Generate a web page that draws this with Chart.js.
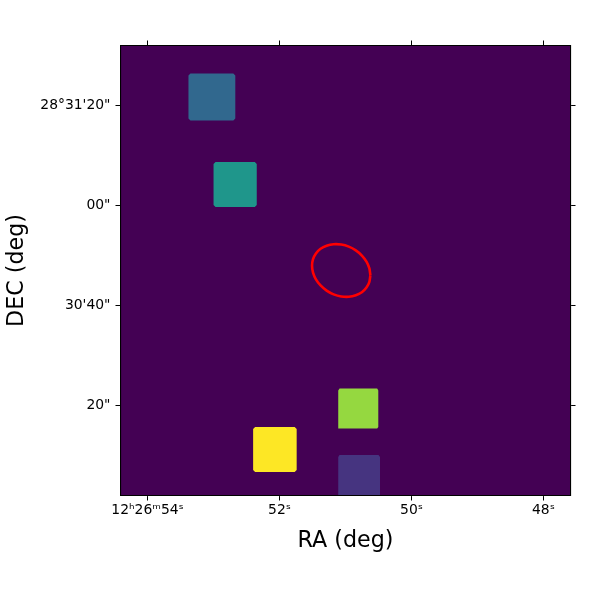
<!DOCTYPE html>
<html><head><meta charset="utf-8">
<style>html,body{margin:0;padding:0;background:#fff}canvas{display:block}</style>
<script src="https://cdn.jsdelivr.net/npm/chart.js@4/dist/chart.umd.min.js"></script>
</head><body><canvas id="c" width="600" height="600"></canvas>
<script>
const raTicks=[54,52,50,48];
const raLabels=['12ʰ26ᵐ54ˢ','52ˢ','50ˢ','48ˢ'];
const decTicks=[80,60,40,20];
const decLabels=['28°31\'20"','00"','30\'40"','20"'];
const raRange=[47.59,54.41];
const decRange=[2,92];
const blueRa=[53.35,52.70,52.67,52.67,52.70,53.35,53.38,53.38];
const blueDec=[86.4,86.4,86,77.4,77,77,77.4,86];
const tealRa=[52.97,52.375,52.345,52.345,52.375,52.97,53.0,53.0];
const tealDec=[68.7,68.7,68.3,60.1,59.7,59.7,60.1,68.3];
const greenRa=[51.09,50.52,50.503,50.503,50.52,51.11,51.11];
const greenDec=[23.4,23.4,23,15.7,15.4,15.4,23];
const yellowRa=[52.37,51.77,51.74,51.74,51.77,52.37,52.4,52.4];
const yellowDec=[15.7,15.7,15.3,7.1,6.7,6.7,7.1,15.3];
const purpleRa=[51.09,50.50,50.477,50.477,51.11,51.11];
const purpleDec=[10.1,10.1,9.7,2,2,9.7];
const ellipseRa=[50.623,50.638,50.682,50.752,50.844,50.95,51.065,51.18,51.286,51.378,51.448,51.492,51.507,51.492,51.448,51.378,51.286,51.18,51.065,50.95,50.844,50.752,50.682,50.638,50.623];
const ellipseDec=[46.05,44.73,43.58,42.65,42.03,41.74,41.81,42.23,42.98,44.01,45.23,46.58,47.95,49.27,50.42,51.35,51.97,52.26,52.19,51.77,51.02,49.99,48.77,47.42,46.05];

const pts=(a,b)=>a.map((v,i)=>({x:v,y:b[i]}));
const blob=(name,a,b,color)=>({label:name,data:pts([...a,a[0]],[...b,b[0]]),showLine:true,fill:'shape',
  backgroundColor:color,borderColor:color,borderWidth:0,pointRadius:0,tension:0});
const font={family:'"DejaVu Sans"',size:13.9};
const titleFont={family:'"DejaVu Sans"',size:22.2};
const tickGrid={drawOnChartArea:false,drawTicks:true,tickLength:5,tickColor:'#000',tickWidth:1};
const border={display:true,color:'#000',width:1.1,z:1};
const fit=(prop,v)=>s=>{s[prop]=v;};
const setTicks=arr=>s=>{s.ticks=arr.map(v=>({value:v}));};

const bg={id:'bg',beforeDatasetsDraw(ch){const a=ch.chartArea,c=ch.ctx;c.save();c.fillStyle='#440154';
  c.fillRect(a.left,a.top,a.right-a.left,a.bottom-a.top);c.restore();}};

new Chart(document.getElementById('c'),{
  type:'scatter',
  data:{datasets:[
    blob('blue',blueRa,blueDec,'#31688e'),
    blob('teal',tealRa,tealDec,'#1f968b'),
    blob('green',greenRa,greenDec,'#95d840'),
    blob('yellow',yellowRa,yellowDec,'#fde725'),
    blob('purple',purpleRa,purpleDec,'#463480'),
    {label:'ellipse',data:pts(ellipseRa,ellipseDec),showLine:true,fill:false,borderColor:'#ff0000',borderWidth:2.6,pointRadius:0,tension:0.2}
  ]},
  options:{
    responsive:false,animation:false,devicePixelRatio:1,
    layout:{padding:0},
    plugins:{legend:{display:false},tooltip:{enabled:false}},
    scales:{
      x:{type:'linear',position:'bottom',reverse:true,min:raRange[0],max:raRange[1],
        afterBuildTicks:setTicks(raTicks),afterFit:fit('height',104.5),
        grid:tickGrid,border,
        ticks:{color:'#000',font,padding:2,maxRotation:0,autoSkip:false,callback:v=>raLabels[raTicks.indexOf(v)]},
        title:{display:true,text:'RA (deg)',color:'#000',font:titleFont,padding:{top:0,bottom:45}}},
      y:{type:'linear',position:'left',min:decRange[0],max:decRange[1],
        afterBuildTicks:setTicks(decTicks),afterFit:fit('width',120.5),
        grid:tickGrid,border,
        ticks:{color:'#000',font,padding:5,autoSkip:false,callback:v=>decLabels[decTicks.indexOf(v)]},
        title:{display:true,text:'DEC (deg)',color:'#000',font:titleFont,padding:{top:4,bottom:0}}},
      x2:{type:'linear',position:'top',reverse:true,min:raRange[0],max:raRange[1],
        afterBuildTicks:setTicks(raTicks),afterFit:fit('height',45.5),
        grid:tickGrid,border,ticks:{display:false}},
      y2:{type:'linear',position:'right',min:decRange[0],max:decRange[1],
        afterBuildTicks:setTicks(decTicks),afterFit:fit('width',29.5),
        grid:tickGrid,border,ticks:{display:false}}
    }
  },
  plugins:[bg]
});
</script></body></html>
